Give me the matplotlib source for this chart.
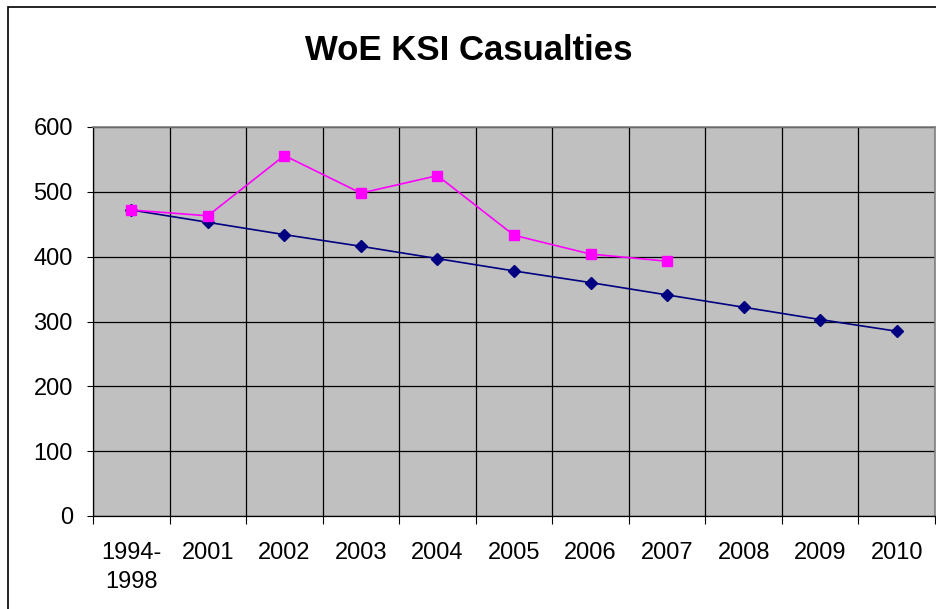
import matplotlib.pyplot as plt
import numpy as np
from matplotlib.patches import Rectangle

plt.rcParams['font.family'] = ['Liberation Sans', 'DejaVu Sans']

# Datos
categories = ['1994-\n1998', '2001', '2002', '2003', '2004', '2005',
              '2006', '2007', '2008', '2009', '2010']
target = [472, 453, 434, 416, 397, 378, 360, 341, 322, 303, 285]
actual = [472, 463, 556, 498, 525, 433, 404, 393]

W, H = 937, 609
fig = plt.figure(figsize=(W / 100, H / 100), dpi=100)

# Borde exterior del gráfico (se sale por la derecha y abajo)
fig.patches.append(Rectangle((8 / W, -0.05), 1.1, 1 - 7 / H + 0.05,
                             transform=fig.transFigure, fill=False,
                             edgecolor='black', linewidth=1.2))

ax = fig.add_axes([93 / W, (H - 516) / H, (935 - 93) / W, (516 - 127) / H])
ax.set_facecolor('#C0C0C0')

x = np.arange(len(categories))
ax.plot(x, target, color='#000080', marker='D', markersize=6.5, linewidth=1.2, zorder=3)
ax.plot(x[:len(actual)], actual, color='#FF00FF', marker='s', markersize=6.5,
        linewidth=1.2, zorder=4)

ax.set_xlim(-0.5, len(categories) - 0.5)
ax.set_ylim(0, 600)
ax.set_yticks(np.arange(0, 601, 100))

# Ticks en los límites de categoría, etiquetas en el centro
ax.set_xticks(np.arange(-0.5, len(categories), 1.0))
ax.set_xticklabels([])
ax.set_xticks(x, minor=True)
ax.set_xticklabels(categories, minor=True, fontsize=17, linespacing=1.4, va='top')
ax.tick_params(axis='x', which='major', direction='out', length=6, width=0.8)
ax.tick_params(axis='x', which='minor', length=0, pad=19)
ax.tick_params(axis='y', direction='out', length=4.5, width=0.8, labelsize=17, pad=10)

ax.grid(True, which='major', color='black', linewidth=0.9)
ax.set_axisbelow(True)

for side in ['top', 'right']:
    ax.spines[side].set_color('#808080')
    ax.spines[side].set_linewidth(1.2)
for side in ['left', 'bottom']:
    ax.spines[side].set_color('black')
    ax.spines[side].set_linewidth(0.9)

fig.text(0.5, 1 - 51 / H, 'WoE KSI Casualties', ha='center', va='center',
         fontsize=25, fontweight='bold')

plt.savefig('out.png', dpi=100)
plt.close()
